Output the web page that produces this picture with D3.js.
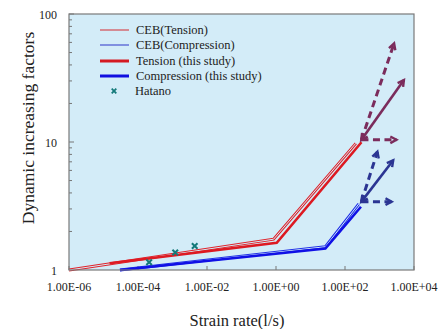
<!DOCTYPE html>
<html><head><meta charset="utf-8">
<script src="https://cdn.jsdelivr.net/npm/d3@7/dist/d3.min.js"></script>
<style>body{margin:0;background:#fff}svg{display:block}text{fill:#222}</style>
</head><body><svg id="c" width="444" height="329" font-family="'Liberation Serif', 'DejaVu Serif', serif"></svg>
<script>
// ---- data ----
const xTicks = [1e-6, 1e-4, 1e-2, 1e0, 1e2, 1e4];
const xTickLabels = ["1.00E-06","1.00E-04","1.00E-02","1.00E+00","1.00E+02","1.00E+04"];
const yTicks = [1, 10, 100];
const yTickLabels = ["1","10","100"];
const cebTension = [[1e-6,1.0],[0.85,1.74],[206,9.77]];
const cebCompression = [[3e-5,1.0],[27,1.52],[250,3.28]];
const studyTension = [[1.5e-5,1.13],[1.05,1.63],[300,9.95]];
const studyCompression = [[3e-5,1.0],[27,1.47],[290,3.12]];
const hatano = [[2.1e-4,1.15],[1.2e-3,1.37],[4.4e-3,1.54]];
// arrows: [from, to, dashed, doubleHead]
const tensionArrows = [
  [[300,10.4],[5100,30.5],false,true],
  [[300,10.4],[2650,59],true,false],
  [[300,10.4],[3100,10.4],true,false]
];
const compressionArrows = [
  [[300,3.42],[2500,7.2],false,true],
  [[300,3.42],[870,8.4],true,false],
  [[300,3.42],[2250,3.42],true,false]
];
const legendLabels = ["CEB(Tension)","CEB(Compression)","Tension (this study)","Compression (this study)","Hatano"];

// ---- layout ----
const svg = d3.select("#c");
const FONT = "'Liberation Serif', 'DejaVu Serif', serif";
const L = 69, R = 414, T = 14, B = 270;
const bg = "#d3ecf8";
const x = d3.scaleLog().domain([1e-6,1e4]).range([L,R]);
const y = d3.scaleLog().domain([1,100]).range([B,T]);

svg.append("rect").attr("x",L).attr("y",T).attr("width",R-L).attr("height",B-T)
  .attr("fill",bg);

// minor y ticks (inside)
const minorY = [];
for (let d=1; d<100; d*=10) for (let k=2;k<=9;k++) minorY.push(d*k);
svg.append("g").selectAll("line").data(minorY).join("line")
  .attr("x1",L).attr("x2",L+3).attr("y1",d=>y(d)).attr("y2",d=>y(d))
  .attr("stroke","#777").attr("stroke-width",1);
svg.append("g").selectAll("line").data(yTicks).join("line")
  .attr("x1",L).attr("x2",L+5).attr("y1",d=>y(d)).attr("y2",d=>y(d))
  .attr("stroke","#777");
svg.append("g").selectAll("line").data(xTicks).join("line")
  .attr("x1",d=>x(d)).attr("x2",d=>x(d)).attr("y1",B).attr("y2",B-4)
  .attr("stroke","#777");

// tick labels
svg.append("g").selectAll("text").data(xTicks).join("text")
  .attr("x",d=>x(d)).attr("y",291).attr("text-anchor","middle").attr("font-family",FONT)
  .attr("font-size",12).text((d,i)=>xTickLabels[i]);
svg.append("g").selectAll("text").data(yTicks).join("text")
  .attr("x",57).attr("y",d=>y(d)+4.5).attr("text-anchor","end").attr("font-family",FONT)
  .attr("font-size",12).text((d,i)=>yTickLabels[i]);

// axis titles
svg.append("text").attr("x",237).attr("y",326).attr("text-anchor","middle").attr("font-family",FONT)
  .attr("font-size",16.5).text("Strain rate(l/s)");
svg.append("text").attr("transform","translate(34,128) rotate(-90)").attr("font-family",FONT)
  .attr("text-anchor","middle").attr("font-size",17.5).text("Dynamic increasing factors");

const line = d3.line().x(d=>x(d[0])).y(d=>y(d[1]));
const plot = svg.append("g");

// hollow thin CEB lines
function hollow(data, color){
  plot.append("path").datum(data).attr("d",line).attr("fill","none")
    .attr("stroke",color).attr("stroke-width",2.8).attr("stroke-linejoin","miter");
  plot.append("path").datum(data).attr("d",line).attr("fill","none")
    .attr("stroke",bg).attr("stroke-width",1.0).attr("stroke-linejoin","miter");
}
hollow(cebTension,"#e0232b");
hollow(cebCompression,"#2030e8");
plot.append("path").datum(studyTension).attr("d",line).attr("fill","none")
  .attr("stroke","#dd1a22").attr("stroke-width",2.6);
plot.append("path").datum(studyCompression).attr("d",line).attr("fill","none")
  .attr("stroke","#1010e6").attr("stroke-width",2.6);

// Hatano markers
function cross(g, cx, cy, s, w){
  g.append("path").attr("d",`M${cx-s},${cy-s}L${cx+s},${cy+s}M${cx-s},${cy+s}L${cx+s},${cy-s}`)
    .attr("stroke","#147a7a").attr("stroke-width",w).attr("fill","none");
}
hatano.forEach(d=>cross(plot, x(d[0]), y(d[1]), 2.8, 2));

// arrows
function head(g, px, py, fx, fy, color, w){
  const a = Math.atan2(py-fy, px-fx), len = 7, sp = 0.5;
  g.append("path").attr("d",
    `M${px-len*Math.cos(a-sp)},${py-len*Math.sin(a-sp)}L${px},${py}L${px-len*Math.cos(a+sp)},${py-len*Math.sin(a+sp)}`)
    .attr("fill","none").attr("stroke",color).attr("stroke-width",w).attr("stroke-linejoin","miter");
}
function arrows(list, color){
  list.forEach(([f,t,dashed,dbl])=>{
    const x1=x(f[0]), y1=y(f[1]), x2=x(t[0]), y2=y(t[1]);
    plot.append("line").attr("x1",x1).attr("y1",y1).attr("x2",x2).attr("y2",y2)
      .attr("stroke",color).attr("stroke-width",dashed?3:2.6)
      .attr("stroke-dasharray",dashed?"7,4.5":null);
    head(plot,x2,y2,x1,y1,color,2.4);
    if (dbl) head(plot,x1,y1,x2,y2,color,2.8);
  });
}
arrows(tensionArrows,"#7b2c5c");
arrows(compressionArrows,"#2b3593");

// frame
svg.append("rect").attr("x",L).attr("y",T).attr("width",R-L).attr("height",B-T)
  .attr("fill","none").attr("stroke","#7a7a7a").attr("stroke-width",1.2);

// legend
const lg = svg.append("g");
const ly = [30,45,61,76,91];
const lstyle = [["#d42a30",1],["#8090e0",2],["#d41a22",3],["#1010e0",3]];
lstyle.forEach((s,i)=>{
  lg.append("line").attr("x1",100).attr("x2",129).attr("y1",ly[i]).attr("y2",ly[i])
    .attr("stroke",s[0]).attr("stroke-width",s[1]);
});
cross(lg, 114, ly[4], 2.3, 1.8);
lg.selectAll("text").data(legendLabels).join("text").attr("font-family",FONT)
  .attr("x",(d,i)=>i===4?135:136).attr("y",(d,i)=>ly[i]+4).attr("font-size",12.5).text(d=>d);
</script></body></html>
